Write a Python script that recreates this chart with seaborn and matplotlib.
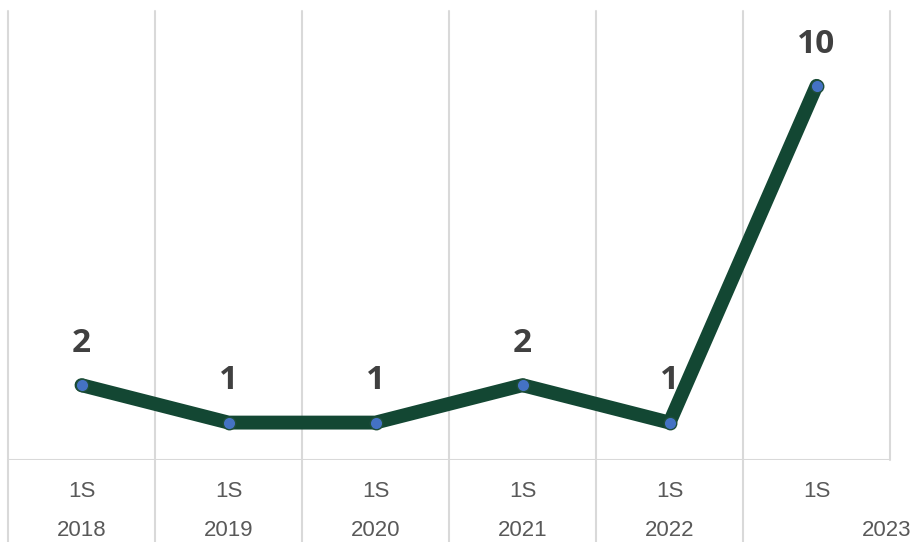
import seaborn as sns
import matplotlib.pyplot as plt
import matplotlib.transforms as mtransforms
import pandas as pd

semesters = ["1S", "1S", "1S", "1S", "1S", "1S"]
years = ["2018", "2019", "2020", "2021", "2022", "2023"]
values = [2, 1, 1, 2, 1, 10]

df = pd.DataFrame({"pos": range(len(values)), "value": values})

sns.set_theme(style="white")
plt.rcParams["font.family"] = ["Liberation Sans", "DejaVu Sans"]

fig = plt.figure(figsize=(9.15, 5.42), dpi=100)
ax = fig.add_axes([8 / 915, 82 / 542, 882 / 915, 449 / 542])

grid_color = "#D9D9D9"
n = len(values)

# category separators (gridlines), extend down through the label band
for i in range(n + 1):
    b = i - 0.5
    ymin = -0.185 if i < n else 0
    ax.axvline(b, ymin=ymin, ymax=1, color=grid_color, lw=1.5, clip_on=False, zorder=0)
ax.axhline(0, color=grid_color, lw=1.5, zorder=0)

sns.lineplot(
    data=df, x="pos", y="value", ax=ax,
    color="#134733", lw=10, marker="o", markersize=9,
    markerfacecolor="#4472C4", markeredgecolor="#1F4E3A", markeredgewidth=1.0,
    zorder=3,
)

for i, v in enumerate(values):
    ax.annotate(str(v), (i, v), xytext=(0, 30), textcoords="offset points",
                ha="center", va="center", fontsize=24, fontweight="bold",
                color="#404040", family=["Open Sans", "DejaVu Sans"])

ax.set_xlim(-0.5, n - 0.5)
ax.set_ylim(0, 12)
ax.set_xticks(range(n))
ax.set_xticklabels(semesters)
ax.tick_params(axis="x", length=0, pad=15, labelsize=16, labelcolor="#595959")
ax.set_yticks([])
ax.set_xlabel("")
ax.set_ylabel("")
for s in ax.spines.values():
    s.set_visible(False)

trans = mtransforms.blended_transform_factory(ax.transData, ax.transAxes)
year_pos = [0, 1, 2, 3, 4, 5.48]
for p, y in zip(year_pos, years):
    ax.text(p, -71 / 449, y, transform=trans, ha="center", va="center",
            fontsize=16, color="#595959")

fig.savefig("out.png", dpi=100)
